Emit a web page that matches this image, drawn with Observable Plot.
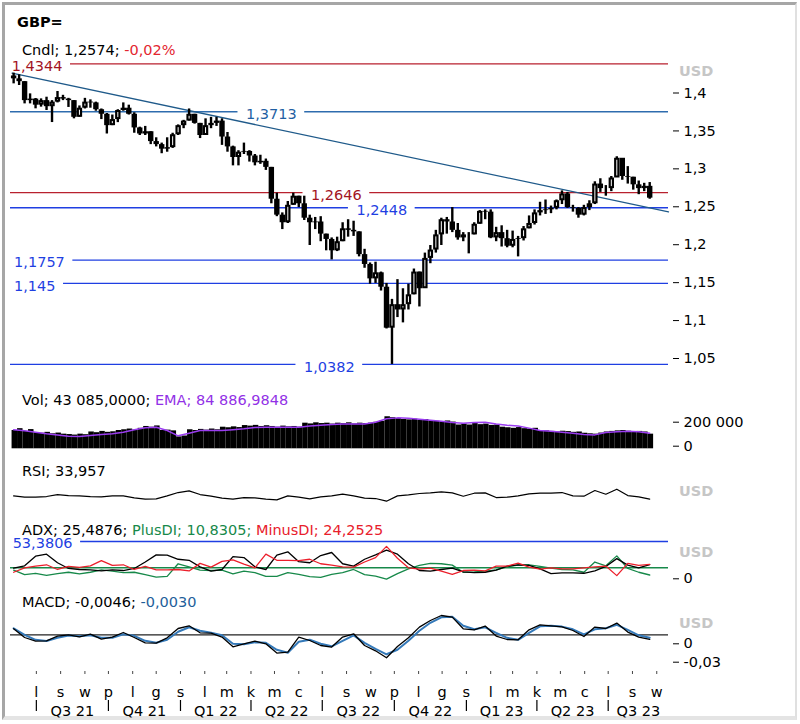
<!DOCTYPE html>
<html><head><meta charset="utf-8">
<script src="https://cdn.jsdelivr.net/npm/d3@7"></script>
<script src="https://cdn.jsdelivr.net/npm/@observablehq/plot@0.6"></script>
<style>
html,body{margin:0;padding:0;background:#fff;}
#root{position:relative;width:800px;height:724px;overflow:hidden;font-family:"DejaVu Sans",Verdana,sans-serif;font-size:14.5px;color:#000;background:#fff;}
.t{position:absolute;white-space:nowrap;line-height:16px;}
.frame{position:absolute;left:2px;top:2px;width:790px;height:711px;border-left:3px solid #a6a6a6;border-top:3px solid #a6a6a6;border-right:2px solid #e0e0e0;border-bottom:4px solid #e4e4e4;}
#root svg{position:absolute;left:0;}
</style></head><body><div id="root"><div class="frame"></div></div>
<script>
// ---------- DATA ----------
const weekStart = "2021-06-02", weekEnd = "2023-08-24";   // weekly candles (Wednesdays)
const firstOpen = 1.4185;
const high = [1.4222,1.4200,1.4110,1.3949,1.3888,1.3883,1.3905,1.3860,1.3980,1.3930,
1.3890,1.3860,1.3790,1.3890,1.3870,1.3840,1.3750,1.3690,1.3670,1.3740,
1.3830,1.3800,1.3700,1.3510,1.3520,1.3450,1.3370,1.3300,1.3370,1.3430,
1.3540,1.3600,1.3750,1.3680,1.3560,1.3620,1.3640,1.3640,1.3620,1.3440,
1.3260,1.3200,1.3300,1.3200,1.3150,1.3140,1.3090,1.2980,1.2640,1.2380,
1.2530,1.2640,1.2600,1.2600,1.2350,1.2320,1.2330,1.2100,1.2050,1.2060,
1.2250,1.2290,1.2270,1.2130,1.1900,1.1720,1.1730,1.1600,1.1450,1.1240,
1.1500,1.1380,1.1440,1.1640,1.1600,1.1850,1.1950,1.2150,1.2310,1.2320,
1.2450,1.2240,1.2120,1.2120,1.2250,1.2410,1.2420,1.2420,1.2190,1.2210,
1.2150,1.2140,1.2070,1.2200,1.2340,1.2420,1.2520,1.2550,1.2470,1.2550,
1.2670,1.2650,1.2480,1.2450,1.2480,1.2540,1.2790,1.2830,1.2740,1.2860,
1.3120,1.3040,1.2990,1.2850,1.2800,1.2770,1.2780];
const low = [1.4081,1.4059,1.3817,1.3817,1.3752,1.3774,1.3730,1.3571,1.3830,1.3860,
1.3770,1.3620,1.3640,1.3750,1.3760,1.3720,1.3610,1.3420,1.3530,1.3570,
1.3720,1.3670,1.3430,1.3400,1.3400,1.3280,1.3250,1.3160,1.3180,1.3230,
1.3400,1.3490,1.3590,1.3550,1.3360,1.3400,1.3490,1.3520,1.3270,1.3180,
1.3000,1.3000,1.3150,1.3050,1.3000,1.3020,1.2940,1.2500,1.2330,1.2160,
1.2240,1.2480,1.2450,1.2280,1.1950,1.2160,1.2000,1.1880,1.1760,1.1870,
1.2000,1.2060,1.2070,1.1800,1.1650,1.1440,1.1450,1.1350,1.0850,1.0382,
1.1000,1.0930,1.1100,1.1300,1.1140,1.1400,1.1710,1.1850,1.1950,1.2100,
1.2120,1.2020,1.2000,1.1840,1.2090,1.2230,1.2290,1.2040,1.2000,1.1930,
1.1920,1.1920,1.1800,1.2010,1.2170,1.2220,1.2340,1.2360,1.2370,1.2420,
1.2490,1.2440,1.2390,1.2310,1.2340,1.2410,1.2490,1.2650,1.2600,1.2660,
1.2850,1.2810,1.2760,1.2680,1.2620,1.2660,1.2560];
const close = [1.4147,1.4110,1.3860,1.3880,1.3800,1.3860,1.3780,1.3840,1.3900,1.3880,
1.3860,1.3640,1.3760,1.3840,1.3830,1.3740,1.3680,1.3530,1.3610,1.3730,
1.3760,1.3680,1.3500,1.3420,1.3450,1.3320,1.3280,1.3220,1.3240,1.3410,
1.3530,1.3590,1.3680,1.3560,1.3400,1.3530,1.3560,1.3590,1.3380,1.3250,
1.3110,1.3180,1.3190,1.3130,1.3040,1.3060,1.2980,1.2560,1.2350,1.2250,
1.2480,1.2600,1.2500,1.2310,1.2250,1.2260,1.2100,1.2030,1.1880,1.2000,
1.2170,1.2150,1.2130,1.1830,1.1700,1.1510,1.1590,1.1400,1.0860,1.1170,
1.1100,1.1170,1.1300,1.1600,1.1380,1.1780,1.1890,1.2090,1.2290,1.2260,
1.2150,1.2050,1.2090,1.2090,1.2230,1.2400,1.2390,1.2050,1.2120,1.2040,
1.1940,1.2030,1.2040,1.2170,1.2240,1.2380,1.2410,1.2420,1.2440,1.2540,
1.2630,1.2450,1.2440,1.2350,1.2450,1.2500,1.2760,1.2700,1.2700,1.2840,
1.3100,1.2860,1.2850,1.2750,1.2700,1.2730,1.2574];
const volume = [100000,110000,95000,105000,88000,85000,90000,82000,86000,80000,
78000,75000,80000,77000,92000,88000,95000,90000,93000,100000,
104000,108000,102000,112000,122000,118000,125000,100000,102000,98000,
65000,70000,104000,100000,106000,102000,108000,104000,118000,115000,
120000,116000,127000,124000,128000,122000,126000,122000,118000,124000,
120000,122000,118000,140000,136000,142000,138000,140000,135000,140000,
138000,142000,136000,140000,138000,140000,145000,150000,175000,170000,
165000,160000,158000,162000,155000,160000,152000,150000,148000,152000,
146000,130000,135000,130000,138000,132000,135000,128000,130000,118000,
115000,112000,116000,110000,108000,112000,100000,98000,95000,92000,
96000,94000,90000,92000,85000,82000,80000,86000,92000,95000,
98000,100000,96000,94000,95000,92000,80000];

// indicators, read every second week (same Wednesdays, step 2)
const volEma = [104000,98000,91000,82000,75000,69000,67000,73000,78000,82000,
91000,104000,115000,118000,100000,71000,85000,100000,100000,100000,
104000,109000,116000,118000,118000,118000,118000,124000,129000,133000,
135000,136000,136000,145000,164000,169000,167000,162000,156000,151000,
144000,140000,144000,145000,136000,129000,125000,113000,100000,96000,
91000,85000,78000,76000,89000,93000,96000,93000,84887];
const rsi = [47.4,42.4,42.4,44.9,52.3,48.6,47.4,44.9,43.6,47.4,
47.4,39.9,34.9,36.2,47.4,59.8,66.0,52.3,46.1,38.7,
34.9,41.1,39.9,34.9,32.4,47.4,42.4,36.2,43.6,47.4,
53.6,47.4,38.7,37.4,27.5,47.4,51.1,56.1,58.6,62.3,
58.6,46.1,57.3,58.6,41.1,42.4,47.4,54.8,57.3,57.3,
59.8,47.4,46.1,67.3,53.6,72.2,48.6,43.6,35.0];
const adx = [19.5,22.5,34.7,37.3,26.4,19.1,17.8,17.3,16.0,17.3,
16.5,19.1,27.3,36.4,36.0,30.8,29.5,21.2,15.6,17.8,
34.2,32.9,21.2,17.8,36.0,40.3,27.7,26.4,35.5,39.4,
25.1,22.1,30.8,36.4,42.5,37.3,25.1,16.5,15.6,17.8,
19.5,14.7,13.9,14.3,16.9,22.1,23.8,23.0,18.6,12.6,
13.4,13.4,13.0,16.0,21.7,31.6,23.4,19.9,24.0];
const plusDI = [16.9,11.3,13.0,10.4,12.6,14.3,12.1,14.3,17.3,15.6,
13.9,14.3,11.3,8.2,9.1,25.1,21.2,16.9,16.5,16.9,
12.1,15.6,13.9,9.1,9.1,13.9,11.7,8.7,7.8,11.7,
13.9,17.8,11.3,9.5,5.6,12.6,18.6,23.0,25.6,25.1,
23.4,14.3,14.7,15.6,17.3,21.2,23.4,23.8,21.7,19.5,
17.8,17.3,14.3,27.3,22.5,35.1,19.1,14.3,10.8];
const minusDI = [14.3,19.9,22.1,23.8,17.8,21.7,20.4,22.5,29.0,23.0,
23.8,17.8,21.7,17.3,17.3,17.8,16.0,25.6,20.8,28.2,
29.9,24.7,19.9,37.3,29.5,29.5,29.0,30.8,25.1,23.4,
21.2,20.8,27.3,32.9,47.2,32.1,19.9,18.2,19.5,15.6,
11.7,16.5,16.9,16.0,22.1,22.1,26.0,20.8,18.2,19.9,
18.6,18.6,19.9,21.2,22.1,10.0,25.6,23.0,24.3];
const macd = [0.0060,-0.0027,-0.0063,-0.0060,-0.0013,0.0000,-0.0020,0.0007,-0.0043,-0.0023,
0.0023,-0.0027,-0.0080,-0.0083,-0.0030,0.0063,0.0090,0.0020,0.0017,-0.0023,
-0.0120,-0.0090,-0.0063,-0.0090,-0.0183,-0.0173,-0.0023,-0.0057,-0.0107,-0.0123,
-0.0023,0.0010,-0.0107,-0.0160,-0.0230,-0.0117,-0.0030,0.0077,0.0143,0.0193,
0.0177,0.0060,0.0050,0.0087,-0.0013,-0.0047,-0.0050,0.0050,0.0100,0.0090,
0.0080,0.0043,-0.0017,0.0077,0.0063,0.0117,0.0027,-0.0023,-0.0046];
const macdSignal = [0.0065,0.0000,-0.0050,-0.0062,-0.0030,-0.0008,-0.0015,-0.0005,-0.0030,-0.0030,
0.0005,-0.0010,-0.0060,-0.0080,-0.0050,0.0030,0.0075,0.0040,0.0020,-0.0005,
-0.0090,-0.0095,-0.0075,-0.0080,-0.0150,-0.0180,-0.0070,-0.0050,-0.0090,-0.0115,
-0.0060,-0.0005,-0.0080,-0.0140,-0.0195,-0.0150,-0.0060,0.0040,0.0120,0.0175,
0.0180,0.0090,0.0055,0.0075,0.0020,-0.0030,-0.0050,0.0020,0.0085,0.0090,
0.0082,0.0055,0.0005,0.0055,0.0065,0.0100,0.0050,-0.0005,-0.0030];

const levels = [1.4344, 1.3713, 1.2646, 1.2448, 1.1757, 1.145, 1.0382];
const levelKinds = ["red", "steel", "red", "blue", "blue", "blue", "blue"];
const levelLabelDates = ["2021-07-02","2022-04-27","2022-07-19","2022-09-15","2021-07-05","2021-06-29","2022-07-10"];
const trendDates = ["2021-05-31", "2023-09-16"];
const trendValues = [1.4221, 1.2394];
const adxLevel = 53.3806, adxLevelLabelDate = "2021-07-09", adxThreshold = 20;
const priceTicks = [1.05, 1.1, 1.15, 1.2, 1.25, 1.3, 1.35, 1.4];
const monthLetters = ["l","s","w","p","l","g","s","l","m","k","m","c","l","s","w","p","l","g","s","l","m","k","m","c","l","s","w"];
const quarterLabels = ["Q3 21","Q4 21","Q1 22","Q2 22","Q3 22","Q4 22","Q1 23","Q2 23","Q3 23"];
const xDomainStr = ["2021-05-29", "2023-09-16"];

// ---------- BUILD ----------
const root = document.getElementById("root");
const xDomain = xDomainStr.map(s => new Date(s));
const X0 = 10, X1 = 668;
const xs = d3.scaleUtc().domain(xDomain).range([X0, X1]);
const xOpt = {type: "utc", domain: xDomain, range: [X0, X1], axis: null};
const FONT = '"DejaVu Sans", Verdana, sans-serif';
const FS = 14.5;
const baseStyle = {background: "none", fontFamily: FONT, fontSize: FS + "px", color: "#000", overflow: "visible"};
const comma = d => String(d).replace(".", ",");
const spaceFmt = d3.formatLocale({decimal: ",", thousands: " ", grouping: [3], currency: ["", ""]}).format(",");

const colorLine = {red: "#b8212e", steel: "#2e6cae", blue: "#1f3fe2"};
const colorText = {red: "#a3141f", steel: "#1f5fa3", blue: "#1f3fe2"};

function textW(s) { let w = 0; for (const c of s) w += ((c === "," || c === " ") ? 0.318 : 0.636) * FS; return w; }
function gapSegments(value, labelDate, label, kind) {
  const cx = xs(new Date(labelDate)), h = textW(label) / 2 + 8;
  const out = [];
  if (cx - h > X0 + 2) out.push({v: value, x1: xDomain[0], x2: xs.invert(cx - h), kind});
  out.push({v: value, x1: xs.invert(cx + h), x2: xDomain[1], kind});
  return out;
}

const weeks = d3.utcWednesday.range(new Date(weekStart), new Date(weekEnd));
const candles = weeks.map((date, i) => ({date, open: i ? close[i - 1] : firstOpen, high: high[i], low: low[i], close: close[i], vol: volume[i]}));
const grid = d3.utcWednesday.range(new Date(weekStart), new Date(weekEnd), 2);
const ind = grid.map((date, i) => ({date, ema: volEma[i], rsi: rsi[i], adx: adx[i], pdi: plusDI[i], mdi: minusDI[i], macd: macd[i], sig: macdSignal[i]}));

function place(svg, top) { svg.style.top = top + "px"; root.appendChild(svg); }

// Price panel
const segs = levels.flatMap((v, i) => gapSegments(v, levelLabelDates[i], comma(v), levelKinds[i]));
const levelLabels = levels.map((v, i) => ({v, date: new Date(levelLabelDates[i]), kind: levelKinds[i]}));
const trend = trendDates.map((d, i) => ({date: new Date(d), value: trendValues[i]}));
const ups = candles.filter(d => d.close - d.open > 0.006);

place(Plot.plot({
  width: 800, height: 320, marginTop: 0, marginBottom: 0, marginLeft: X0, marginRight: 128,
  style: baseStyle,
  x: xOpt, y: {domain: [1.05, 1.4], range: [300, 34.5]},
  marks: [
    Plot.ruleY(segs, {y: "v", x1: "x1", x2: "x2", stroke: d => colorLine[d.kind], strokeWidth: 1.3}),
    Plot.text(levelLabels, {x: "date", y: "v", text: d => comma(d.v), fill: d => colorText[d.kind], dy: 2.5, fontSize: FS}),
    Plot.line(trend, {x: "date", y: "value", stroke: "#1f5a8a", strokeWidth: 1.3}),
    Plot.ruleX(candles, {x: "date", y1: "low", y2: "high", stroke: "#000", strokeWidth: 2.4}),
    Plot.ruleX(candles, {x: "date", y1: d => Math.max(d.open, d.close), y2: d => Math.min(d.open, d.close), stroke: "#000", strokeWidth: 5.4}),
    Plot.ruleX(ups, {x: "date", y1: "close", y2: "open", stroke: "#fff", strokeWidth: 1, insetTop: 2, insetBottom: 2}),
    Plot.axisY(priceTicks, {anchor: "right", tickSize: 6, tickPadding: 5, dy: 3, tickFormat: comma, label: null})
  ]
}), 55);

// Volume panel
place(Plot.plot({
  width: 800, height: 50, marginTop: 0, marginBottom: 0, marginLeft: X0, marginRight: 128,
  style: baseStyle,
  x: xOpt, y: {domain: [0, 200000], range: [43.3, 6.7]},
  marks: [
    Plot.rect(candles, {x1: d => d3.utcMonday.floor(d.date), x2: d => d3.utcMonday.offset(d3.utcMonday.floor(d.date), 1), y1: () => 0, y2: "vol", fill: "#000"}),
    Plot.line(ind, {x: "date", y: "ema", stroke: "#9a3cf0", strokeWidth: 1.5}),
    Plot.axisY([200000], {anchor: "right", tickSize: 6, tickPadding: 5, dy: 10, tickFormat: spaceFmt, label: null}),
    Plot.axisY([0], {anchor: "right", tickSize: 6, tickPadding: 5, dy: -2.6, tickFormat: spaceFmt, label: null})
  ]
}), 405);

// RSI panel
place(Plot.plot({
  width: 800, height: 30, marginTop: 0, marginBottom: 0, marginLeft: X0, marginRight: 128,
  style: baseStyle,
  x: xOpt, y: {domain: [0, 100], range: [28.06, 1.26], axis: null},
  marks: [
    Plot.line(ind, {x: "date", y: "rsi", stroke: "#000", strokeWidth: 1.2})
  ]
}), 480);

// ADX panel
const adxSegs = gapSegments(adxLevel, adxLevelLabelDate, comma(adxLevel), "blue");
place(Plot.plot({
  width: 800, height: 55, marginTop: 0, marginBottom: 0, marginLeft: X0, marginRight: 128,
  style: baseStyle,
  x: xOpt, y: {domain: [0, adxLevel], range: [48, 6]},
  marks: [
    Plot.ruleY(adxSegs, {y: "v", x1: "x1", x2: "x2", stroke: "#1f3fe2", strokeWidth: 1.3}),
    Plot.text([adxLevel], {x: () => new Date(adxLevelLabelDate), y: d => d, text: comma, fill: "#1f3fe2", dy: 2.3, fontSize: FS}),
    Plot.ruleY([adxThreshold], {x1: () => xDomain[0], x2: () => xDomain[1], stroke: "#17894a", strokeWidth: 1.3}),
    Plot.line(ind, {x: "date", y: "pdi", stroke: "#17894a", strokeWidth: 1.3}),
    Plot.line(ind, {x: "date", y: "adx", stroke: "#000", strokeWidth: 1.3}),
    Plot.line(ind, {x: "date", y: "mdi", stroke: "#ec1f2b", strokeWidth: 1.3}),
    Plot.axisY([0], {anchor: "right", tickSize: 6, tickPadding: 5, dy: -4.7, tickFormat: comma, label: null})
  ]
}), 535);

// MACD panel
place(Plot.plot({
  width: 800, height: 65, marginTop: 0, marginBottom: 0, marginLeft: X0, marginRight: 128,
  style: baseStyle,
  x: xOpt, y: {domain: [-0.03, 0], range: [59.3, 29.3]},
  marks: [
    Plot.ruleY([0], {x1: () => xDomain[0], x2: () => xDomain[1], stroke: "#222", strokeWidth: 1.2}),
    Plot.line(ind, {x: "date", y: "sig", stroke: "#3479b9", strokeWidth: 2}),
    Plot.line(ind, {x: "date", y: "macd", stroke: "#000", strokeWidth: 1.3}),
    Plot.axisY([0], {anchor: "right", tickSize: 6, tickPadding: 5, dy: 9, tickFormat: comma, label: null}),
    Plot.axisY([-0.03], {anchor: "right", tickSize: 6, tickPadding: 5, dy: -2.6, tickFormat: comma, label: null})
  ]
}), 605);

// Time axis
const months = d3.utcMonth.range(new Date("2021-07-01"), new Date("2023-09-02"));
const quarters = d3.utcMonth.range(new Date("2021-07-01"), new Date("2023-07-02"), 3);
const qMid = quarters.map(q => {
  const e = Math.min(+d3.utcMonth.offset(q, 3), +xDomain[1]);
  return new Date((+q + e) / 2);
});
place(Plot.plot({
  width: 800, height: 55, marginTop: 0, marginBottom: 0, marginLeft: X0, marginRight: 128,
  style: baseStyle,
  x: xOpt,
  marks: [
    Plot.ruleX(months, {x: d => d, insetTop: 6, insetBottom: 46, stroke: "#444"}),
    Plot.text(months, {x: d => d, text: (d, i) => monthLetters[i], frameAnchor: "top", dy: 21.7, fontSize: FS}),
    Plot.ruleX(quarters, {x: d => d, insetTop: 35, insetBottom: 9, stroke: "#000", strokeWidth: 1.2}),
    Plot.text(quarterLabels, {x: (d, i) => qMid[i], text: d => d, frameAnchor: "top", dy: 40, fontSize: FS})
  ]
}), 665);

// ---------- HEADER TEXTS ----------
function T(html, x, yc) {
  const d = document.createElement("div");
  d.className = "t"; d.style.left = x + "px"; d.style.top = (yc - 8) + "px"; d.innerHTML = html;
  root.appendChild(d);
}
T('<b>GBP=</b>', 17, 22);
T('Cndl; 1,2574; <span style="color:#e3262f">-0,02%</span>', 22, 49.5);
T('Vol; 43 085,0000; <span style="color:#9231e6">EMA; 84 886,9848</span>', 22, 400);
T('RSI; 33,957', 22, 470.5);
T('ADX; 25,4876; <span style="color:#17894a">PlusDI; 10,8305;</span> <span style="color:#e8202c">MinusDI; 24,2525</span>', 22, 530);
T('MACD; -0,0046; <span style="color:#1f5f9a">-0,0030</span>', 22, 601.5);
const usd = '<b style="color:#c6c6c6">USD</b>';
T(usd, 679, 71); T(usd, 679, 491); T(usd, 679, 552); T(usd, 679, 622.5);
</script></body></html>
